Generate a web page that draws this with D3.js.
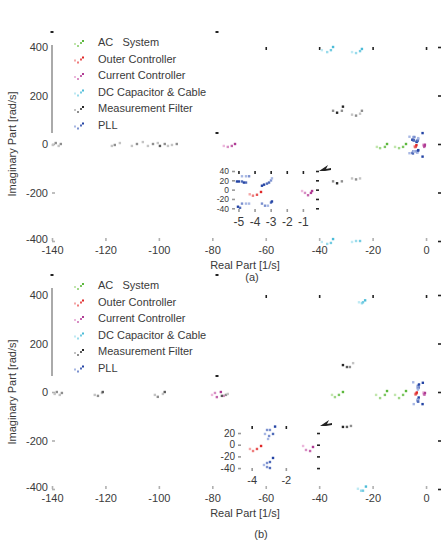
<!DOCTYPE html>
<html>
<head>
<meta charset="utf-8">
<script src="https://cdn.jsdelivr.net/npm/d3@7"></script>
<style>
  body { margin: 0; background: #fff; }
  svg text { font-family: "Liberation Sans", Arial, sans-serif; fill: #3a3a3a; }
</style>
</head>
<body>
<div id="chart"></div>
<script>
// legend names, same order as the series arrays below
var seriesNames = ["AC   System", "Outer Controller", "Current Controller",
                   "DC Capacitor & Cable", "Measurement Filter", "PLL"];

var xTicks = [-140, -120, -100, -80, -60, -40, -20, 0];
var yTicks = [-400, -200, 0, 200, 400];
var insetXTicksA = [-5, -4, -3, -2, -1];
var insetYTicksA = [40, 20, 0, -20, -40];
var insetXTicksB = [-4, -2];
var insetYTicksB = [20, 0, -20, -40];

// eigenvalues: [real 1/s, imag rad/s, sweep step 0-3]
// panel (a)
var acA = [[-18.4, -12, 0], [-17.2, -17, 1], [-15.4, -12, 2], [-14.6, 0, 3],
           [-11.6, -12, 0], [-10.1, -17, 1], [-8.6, -12, 2], [-7.5, 0, 3]];
var outerA = [[-4.3, -10, 0], [-4.1, -13, 1], [-3.85, -11, 2], [-3.6, -5, 3]];
var currentA = [[-75.7, -8, 0], [-74.2, -12, 1], [-72.7, -8, 2], [-71.5, 0, 3],
                [-1.05, -3, 0], [-0.87, -7, 1], [-0.68, -12, 2], [-0.5, -7, 3], [-0.43, -3, 3]];
var dcA = [[-39, 387, 0], [-37, 379, 1], [-35.6, 387, 2], [-34.8, 400, 3],
           [-27.7, 379, 0], [-26.2, 375, 1], [-24.7, 383, 2], [-24, 392, 3],
           [-39, -404, 0], [-37, -412, 1], [-35.6, -408, 2], [-34.8, -392, 3],
           [-27.7, -404, 0], [-26.2, -400, 1], [-24.7, -400, 2]];
var filterA = [[-139.7, -4, 0], [-138.6, 4, 1], [-137.5, -8, 0], [-136.7, 0, 1],
               [-117.6, -8, 0], [-116.5, -4, 1], [-114.6, 4, 0],
               [-110.1, -8, 0], [-108.2, 0, 1], [-106, 8, 0],
               [-104.1, -8, 0], [-102.2, 0, 1], [-100.4, 4, 0], [-99.6, -8, 2], [-97.8, 0, 1], [-96.6, -8, 0],
               [-95.1, -4, 0], [-93.3, 0, 1],
               [-34.8, 137, 1], [-33.3, 129, 3], [-31.5, 137, 1], [-31.1, 154, 3],
               [-27.7, 121, 0], [-26.2, 117, 1], [-24.7, 125, 0], [-24, 137, 1],
               [-34.8, -154, 1], [-33.3, -162, 3], [-31.5, -154, 1],
               [-27.7, -142, 0], [-26.2, -146, 1], [-24.7, -142, 0]];
var pllA = [[-5.09, 17.5, 3], [-4.97, 17.5, 3], [-4.78, 17.5, 2], [-4.66, 15.2, 3], [-4.53, 15.2, 2],
            [-4.78, 28.7, 0], [-4.53, 28.7, 0], [-4.34, 28.7, 1],
            [-3.54, 8.4, 3], [-3.41, 10.7, 3], [-3.23, 12.9, 2], [-3.1, 15.2, 2], [-2.98, 19.7, 1], [-2.92, 24.2, 0],
            [-5.03, -36.7, 3], [-4.9, -39, 2], [-4.78, -30, 1], [-4.53, -30, 0], [-4.34, -30, 0],
            [-3.54, -30, 1], [-3.35, -34.5, 1], [-3.17, -34.5, 0], [-2.98, -27.7, 2], [-2.92, -25.4, 3],
            [-6.2, 30, 0], [-6.2, -38, 0], [-1.3, 45, 3], [-1.3, -52, 3]];

// panel (b)
var acB = [[-35.2, -12, 0], [-34.1, -21, 1], [-32.6, -12, 2], [-31.1, 0, 3],
           [-18.7, -12, 0], [-17.2, -25, 1], [-15.4, -12, 2], [-14.6, 4, 3],
           [-11.6, -12, 0], [-10.1, -25, 1], [-8.6, -12, 2], [-7.5, 4, 3]];
var outerB = [[-4.1, -7.3, 0], [-3.92, -10.8, 1], [-3.69, -7.3, 2], [-3.45, -2.2, 3]];
var currentB = [[-80.1, -12, 0], [-79, -4, 1], [-78.3, -21, 2], [-76.8, 0, 3], [-75.7, -16, 1],
                [-0.99, -2.2, 0], [-0.82, -9, 1], [-0.58, -10.8, 2], [-0.41, -3.9, 3]];
var dcB = [[-25.1, 370, 0], [-24, 366, 1], [-23.6, 370, 2], [-22.8, 378, 3],
           [-25.5, -399, 0], [-24.3, -407, 1], [-23.6, -407, 2], [-22.5, -390, 3]];
var filterB = [[-139, -8, 0], [-138.2, 0, 1], [-137.1, -12, 0], [-136.3, -4, 1],
               [-124, -12, 0], [-122.8, -16, 1], [-121.3, -4, 0], [-121, 0, 2],
               [-101.5, -12, 0], [-100.4, -20, 1], [-98.5, -8, 0], [-97.8, 0, 2],
               [-76.4, -16, 2], [-74.9, -12, 1], [-74.2, -8, 0],
               [-31.1, 111, 3], [-29.6, 103, 2], [-28.5, 103, 1], [-27.3, 119, 0],
               [-31.1, -144, 3], [-29.6, -144, 2], [-28.1, -140, 1]];
var pllB = [[-3.1, 25.2, 1], [-2.93, 25.2, 1], [-2.75, 18.4, 2], [-3.22, 18.4, 0], [-2.98, 14.9, 1],
            [-3.04, 9.8, 0], [-2.63, 31, 3],
            [-2.75, -22.7, 3], [-2.93, -29.6, 2], [-3.1, -31.3, 1], [-3.28, -34.7, 0],
            [-3.1, -38.2, 1], [-2.93, -39.9, 2],
            [-4.8, 40, 0], [-1.2, 38, 3], [-4.6, -50, 0], [-1.3, -50, 3]];

// light -> dark colour of every series (sweep goes light to dark)
var seriesColors = [["#c2e6ae", "#5cb83c"], ["#f5a8a8", "#e02828"], ["#ecb8dc", "#b03c94"],
                    ["#bfeaf4", "#4cbcd8"], ["#c4c4c4", "#262626"], ["#a8b8e4", "#2444a4"]];

function shade(s, k) {
  return d3.interpolateRgb(seriesColors[s][0], seriesColors[s][1])(k / 3);
}

var svg = d3.select("#chart")
    .append("svg")
    .attr("width", 443)
    .attr("height", 545);

var x = d3.scaleLinear().domain([-140, 5.6]).range([52, 441]);

// strip the axis line, colour the ticks and size the labels
function cleanAxis(g, color, fs) {
  g.attr("font-family", null).attr("font-size", fs);
  g.select(".domain").remove();
  g.selectAll(".tick line").attr("stroke", color).attr("stroke-width", 1.6);
  g.selectAll(".tick text").attr("fill", "#3a3a3a");
}

function plain(d) { return String(d); }

function drawPoints(g, series, sx, sy, keep) {
  series.forEach(function(data, s) {
    g.append("g").selectAll("rect")
      .data(data.filter(keep))
      .enter()
      .append("rect")
      .attr("x", function(d) { return sx(d[0]) - 1.2; })
      .attr("y", function(d) { return sy(d[1]) - 1.2; })
      .attr("width", 2.4)
      .attr("height", 2.4)
      .attr("fill", function(d) { return shade(s, d[2]); });
  });
}

function drawPanel(p) {
  var y = d3.scaleLinear().domain([-400, 400]).range([p.bottom, p.top]);
  var g = svg.append("g");

  // labelled axes (bottom, left) with light inward ticks
  g.append("g")
    .attr("transform", "translate(0," + p.bottom + ")")
    .call(d3.axisBottom(x).tickValues(xTicks).tickFormat(plain).tickSizeInner(-3).tickSizeOuter(0).tickPadding(5))
    .call(cleanAxis, "#b0b0b0", 11);
  var left = g.append("g")
    .attr("transform", "translate(52,0)")
    .call(d3.axisLeft(y).tickValues(yTicks).tickFormat(plain).tickSizeInner(-3).tickSizeOuter(0).tickPadding(4))
    .call(cleanAxis, "#b0b0b0", 11);
  // the lowest label sits right on top of the -140 label, lift it a touch
  left.selectAll(".tick text").filter(function(d) { return d === -400; }).attr("dy", "0.1em");
  // top and right only show dark tick stubs
  g.append("g")
    .attr("transform", "translate(0," + p.top + ")")
    .call(d3.axisTop(x).tickValues(xTicks).tickFormat("").tickSizeInner(-3).tickSizeOuter(0))
    .call(cleanAxis, "#222", 11);
  g.append("g")
    .attr("transform", "translate(441,0)")
    .call(d3.axisRight(y).tickValues(yTicks).tickFormat("").tickSizeInner(-3).tickSizeOuter(0))
    .call(cleanAxis, "#222", 11);

  drawPoints(g, p.series, x, y, function() { return true; });

  // legend box
  var lg = g.append("g");
  lg.append("rect")
    .attr("x", 53).attr("y", p.legendTop)
    .attr("width", 164).attr("height", 101)
    .attr("fill", "#fff");
  lg.append("line")
    .attr("x1", 52).attr("x2", 52)
    .attr("y1", p.legendTop + 13).attr("y2", p.legendTop + 101)
    .attr("stroke", "#aaa").attr("stroke-width", 2);
  [[52, p.legendTop], [217, p.legendTop], [217, p.legendTop + 101]].forEach(function(c) {
    lg.append("rect").attr("x", c[0] - 1.5).attr("y", c[1] - 1).attr("width", 3).attr("height", 2).attr("fill", "#222");
  });
  var pattern = [[-4, 2, 0], [-1, 4, 1], [2, 1, 2], [4, -1, 3]];
  seriesNames.forEach(function(name, i) {
    var cy = p.legendTop + 10 + i * 16.5;
    lg.selectAll(null)
      .data(pattern)
      .enter()
      .append("rect")
      .attr("x", function(d) { return 79 + d[0] - 1; })
      .attr("y", function(d) { return cy + d[1] - 1; })
      .attr("width", 2).attr("height", 2)
      .attr("fill", function(d) { return shade(i, d[2]); });
    lg.append("text")
      .attr("x", 98)
      .attr("y", cy + 4)
      .attr("font-size", "11px")
      .style("white-space", "pre")
      .text(name);
  });

  // axis titles and panel tag
  g.append("text")
    .attr("transform", "translate(16," + ((p.top + p.bottom) / 2) + ") rotate(-90)")
    .attr("text-anchor", "middle")
    .attr("font-size", "11px")
    .text("Imaginary Part [rad/s]");
  g.append("text")
    .attr("x", 245).attr("y", p.bottom + 28)
    .attr("text-anchor", "middle")
    .attr("font-size", "11px")
    .text("Real Part [1/s]");
  g.append("text")
    .attr("x", p.tagX).attr("y", p.tagY)
    .attr("text-anchor", "middle")
    .attr("font-size", "11px")
    .text(p.tag);

  // zoomed inset around the origin
  var ix = d3.scaleLinear().domain(p.ixDomain).range([p.ix0, p.ix1]);
  var iy = d3.scaleLinear().domain(p.iyDomain).range([p.iy1, p.iy0]);
  var ig = g.append("g");
  ig.append("g")
    .attr("transform", "translate(0," + p.iy1 + ")")
    .call(d3.axisBottom(ix).tickValues(p.ixTicks).tickFormat(plain).tickSizeInner(-3).tickSizeOuter(0).tickPadding(5))
    .call(cleanAxis, "#999", p.ifs);
  ig.append("g")
    .attr("transform", "translate(" + p.ix0 + ",0)")
    .call(d3.axisLeft(iy).tickValues(p.iyTicks).tickFormat(plain).tickSizeInner(-3).tickSizeOuter(0).tickPadding(3))
    .call(cleanAxis, "#999", p.ifsY);
  ig.append("g")
    .attr("transform", "translate(0," + p.iy0 + ")")
    .call(d3.axisTop(ix).tickValues(p.ixTicks).tickFormat("").tickSizeInner(-3).tickSizeOuter(0))
    .call(cleanAxis, "#222", p.ifs);
  ig.append("g")
    .attr("transform", "translate(" + p.ix1 + ",0)")
    .call(d3.axisRight(iy).tickValues(p.iyTicks).tickFormat("").tickSizeInner(-3).tickSizeOuter(0))
    .call(cleanAxis, "#222", p.ifs);

  drawPoints(ig, p.series, ix, iy, function(d) {
    return d[0] >= p.ixDomain[0] && d[0] <= p.ixDomain[1] && d[1] >= p.iyDomain[0] && d[1] <= p.iyDomain[1];
  });

  // little arrow pointing from the origin cluster to the inset
  ig.append("path")
    .attr("transform", "translate(" + p.ix1 + "," + p.iy0 + ")")
    .attr("d", "M0,0 L9,-6 L7,-2 L12,-3 L12,-1 L6,0 Z")
    .attr("fill", "#222");
}

drawPanel({
  top: 47, bottom: 241, legendTop: 32,
  series: [acA, outerA, currentA, dcA, filterA, pllA],
  tag: "(a)", tagX: 252, tagY: 281,
  ix0: 232, ix1: 319, iy0: 171, iy1: 212,
  ixDomain: [-5.4, 0], iyDomain: [-48, 40],
  ixTicks: insetXTicksA, iyTicks: insetYTicksA, ifs: 12, ifsY: 8.5
});

drawPanel({
  top: 295, bottom: 489, legendTop: 275,
  series: [acB, outerB, currentB, dcB, filterB, pllB],
  tag: "(b)", tagX: 261, tagY: 538,
  ix0: 238, ix1: 320, iy0: 426, iy1: 471,
  ixDomain: [-4.8, 0], iyDomain: [-45, 32],
  ixTicks: insetXTicksB, iyTicks: insetYTicksB, ifs: 11, ifsY: 10
});
</script>
</body>
</html>
